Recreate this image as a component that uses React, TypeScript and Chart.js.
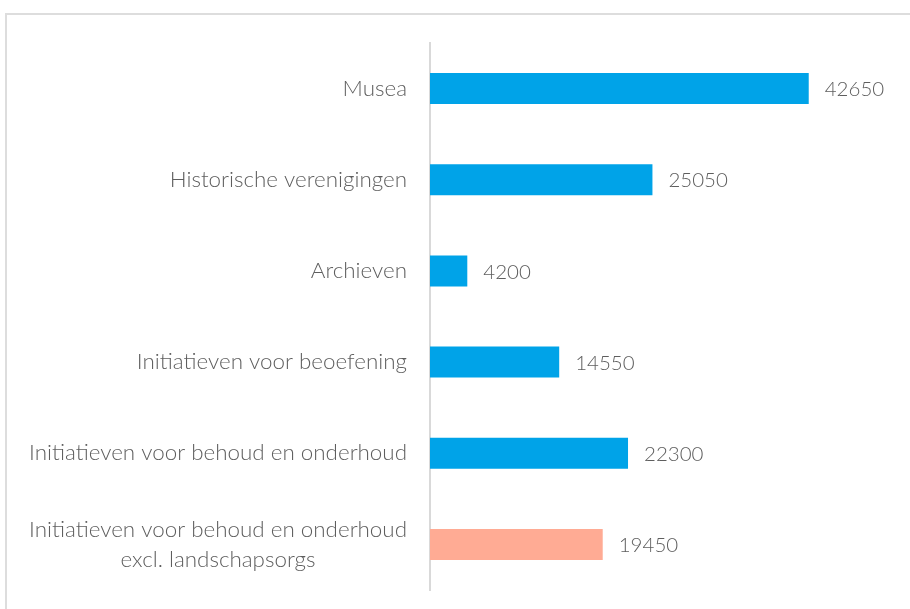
import React, { useEffect, useRef } from "react";
import { Chart, registerables } from "chart.js";

Chart.register(...registerables);

const categories: (string | string[])[] = [
  "Musea",
  "Historische verenigingen",
  "Archieven",
  "Initiatieven voor beoefening",
  "Initiatieven voor behoud en onderhoud",
  ["Initiatieven voor behoud en onderhoud", "excl. landschapsorgs"],
];
const values = [42650, 25050, 4200, 14550, 22300, 19450];
const barColors = ["#00A3E8", "#00A3E8", "#00A3E8", "#00A3E8", "#00A3E8", "#FFAB94"];

const FAMILY = '"Lato", "Source Sans Pro", "Open Sans", sans-serif';
const LABEL_FONT = `300 22.4px ${FAMILY}`;
const VALUE_FONT = `300 20.5px ${FAMILY}`;
const TEXT = "#5E5E5E";

const labelPlugin = {
  id: "customLabels",
  afterDraw(chart: any) {
    const ctx = chart.ctx;
    const yScale = chart.scales.y;
    ctx.save();
    ctx.fillStyle = TEXT;
    ctx.textBaseline = "middle";
    // value labels
    ctx.font = VALUE_FONT;
    const meta = chart.getDatasetMeta(0);
    meta.data.forEach((el: any, i: number) => {
      ctx.textAlign = "left";
      ctx.fillText(String(values[i]), el.x + 16, el.y + 1);
    });
    // category labels
    ctx.font = LABEL_FONT;
    const lh = 30;
    categories.forEach((lab, i) => {
      const lines = Array.isArray(lab) ? lab : [lab];
      const py = yScale.getPixelForTick(i);
      const widths = lines.map((l) => ctx.measureText(l).width);
      const maxW = Math.max(...widths);
      const right = yScale.right - 23;
      const cx = right - maxW / 2;
      ctx.textAlign = "center";
      lines.forEach((l, j) => {
        ctx.fillText(l, cx, py + (j - (lines.length - 1) / 2) * lh);
      });
    });
    ctx.restore();
  },
};

export default function App() {
  const ref = useRef<HTMLCanvasElement>(null);
  useEffect(() => {
    const chart = new Chart(ref.current!, {
      type: "bar",
      data: {
        labels: categories as any,
        datasets: [
          {
            data: values,
            backgroundColor: barColors,
            categoryPercentage: 1,
            barPercentage: 0.34,
          },
        ],
      },
      options: {
        indexAxis: "y",
        animation: false,
        responsive: false,
        layout: { padding: { left: 0, right: 36, top: 43, bottom: 19 } },
        plugins: { legend: { display: false }, tooltip: { enabled: false } },
        scales: {
          x: { display: false, min: 0, max: 50000 },
          y: {
            afterFit: (s: any) => {
              s.width = 430;
            },
            ticks: { display: false },
            grid: { display: false, drawTicks: false },
            border: { display: true, color: "#D9D9D9", width: 2 },
          },
        },
      },
      plugins: [labelPlugin],
    });
    return () => chart.destroy();
  }, []);
  return (
    <div
      style={{
        position: "fixed",
        left: 0,
        top: 0,
        width: 910,
        height: 609,
        background: "#fff",
        overflow: "hidden",
      }}
    >
      <div
        style={{
          position: "absolute",
          left: 5,
          top: 13,
          width: 940,
          height: 640,
          border: "2px solid #DDDDDD",
        }}
      />
      <canvas
        ref={ref}
        width={910}
        height={609}
        style={{ position: "absolute", left: 0, top: 0, display: "block" }}
      />
    </div>
  );
}
